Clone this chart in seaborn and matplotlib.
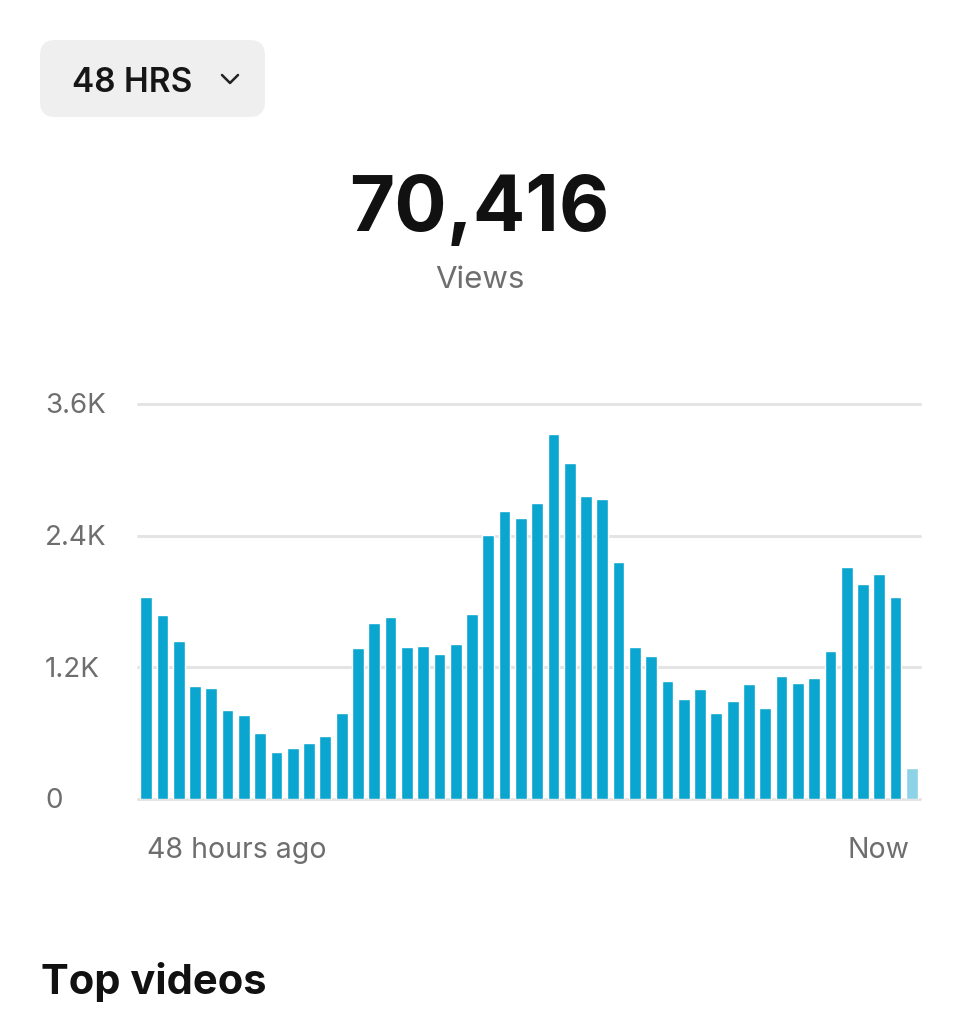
import matplotlib
matplotlib.use("Agg")
import matplotlib.pyplot as plt
import seaborn as sns
import pandas as pd
from matplotlib.patches import FancyBboxPatch
from matplotlib.lines import Line2D
from matplotlib.transforms import blended_transform_factory

# ---- data ----
hours = list(range(48))
views = [1843, 1679, 1442, 1034, 1016, 809, 766, 605, 429, 465, 514, 578,
         788, 1372, 1600, 1661, 1387, 1396, 1326, 1411, 1682, 2409, 2625, 2564,
         2698, 3330, 3060, 2762, 2734, 2156, 1387, 1305, 1077, 915, 1004, 788,
         894, 1049, 830, 1122, 1058, 1104, 1350, 2114, 1956, 2047, 1843, 283]
status = ["complete"] * 47 + ["partial"]
y_ticks = [0, 1200, 2400, 3600]
y_tick_labels = ["0", "1.2K", "2.4K", "3.6K"]
x_labels = ["48 hours ago", "Now"]
total_label = "70,416"
total_caption = "Views"
range_label = "48 HRS"
section_title = "Top videos"

df = pd.DataFrame({"hour": hours, "views": views, "status": status})

sns.set_theme(style="white")
plt.rcParams["font.family"] = ["Inter", "DejaVu Sans"]

W, H = 961, 1024
fig = plt.figure(figsize=(W / 100, H / 100), dpi=100)
fig.patch.set_facecolor("white")

def fx(px):
    return px / W

def fy(py):
    return 1 - py / H

ax = fig.add_axes([fx(138), fy(799), fx(920) - fx(138), fy(404) - fy(799)])
sns.barplot(data=df, x="hour", y="views", hue="status",
            palette={"complete": "#0aa6cf", "partial": "#8dd3e8"},
            width=0.72, dodge=False, legend=False, ax=ax, saturation=1)
ax.set_xlim(-0.5, 47.5)
ax.set_ylim(0, 3600)
ax.set_yticks(y_ticks)
ax.set_yticklabels([])
ax.set_xticks([])
ax.set_xlabel("")
ax.set_ylabel("")
for s in ax.spines.values():
    s.set_visible(False)
for t in y_ticks:
    ax.axhline(t, color="#e4e4e4", lw=2.2, zorder=0, clip_on=False)
ax.tick_params(left=False, bottom=False)

trans = blended_transform_factory(fig.transFigure, ax.transData)
for t, lab in zip(y_ticks, y_tick_labels):
    ax.text(fx(45), t - 20, lab, transform=trans, ha="left", va="center",
            fontsize=20, color="#6e6e6e")

fig.text(fx(147), fy(848), x_labels[0], ha="left", va="center_baseline", fontsize=20.5, color="#6e6e6e")
fig.text(fx(909), fy(848), x_labels[1], ha="right", va="center_baseline", fontsize=20.5, color="#6e6e6e")

fig.text(fx(479), fy(211), total_label, ha="center", va="center", fontsize=56,
         fontweight="bold", color="#111111")
fig.text(fx(480), fy(277), total_caption, ha="center", va="center_baseline", fontsize=22.5,
         color="#6e6e6e")

# range selector button
btn = FancyBboxPatch((fx(40), fy(117)), fx(265) - fx(40), fy(40) - fy(117),
                     boxstyle="round,pad=0,rounding_size=0.016",
                     transform=fig.transFigure, facecolor="#efefef",
                     edgecolor="none", mutation_aspect=W / H)
fig.patches.append(btn)
fig.text(fx(72), fy(80), range_label, ha="left", va="center_baseline", fontsize=24,
         fontweight="semibold", color="#161616")
fig.lines.append(Line2D([fx(222), fx(230), fx(238)], [fy(75), fy(83), fy(75)],
                        transform=fig.transFigure, color="#222222", lw=1.8,
                        solid_capstyle="round", solid_joinstyle="round"))

fig.text(fx(41), fy(978), section_title, ha="left", va="center_baseline", fontsize=30,
         fontweight="bold", color="#111111")

fig.savefig("out.png", dpi=100)
